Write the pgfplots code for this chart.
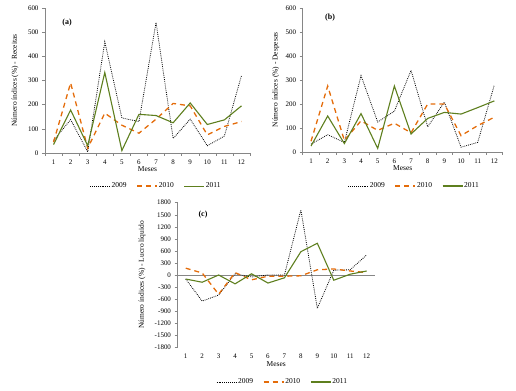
\documentclass[border=0pt]{standalone}
\usepackage{pgfplots}
\pgfplotsset{compat=1.18}
\usepackage{fontspec}
\setmainfont{Liberation Serif}
\definecolor{axgray}{RGB}{134,134,134}
\definecolor{orA}{RGB}{228,108,10}
\definecolor{grA}{RGB}{94,127,30}
\pgfplotsset{
  base/.style={
    scale only axis,
    axis lines=left,
    axis line style={-,axgray,line width=0.6pt},
    /pgf/number format/assume math mode=true,
    /pgf/number format/1000 sep={},
    tick label style={font=\fontsize{7}{8}\selectfont},
    label style={font=\fontsize{7.5}{9}\selectfont},
    tick align=outside,
    major tick length=3bp,
    minor tick length=3bp,
    every tick/.style={axgray,line width=0.5pt},
    xmin=0.5,xmax=12.5,
    xtick={1,...,12},
    minor xtick={0.5,1.5,...,12.5},
    major x tick style={draw=none},
    clip=false,
    xlabel={Meses},
    legend columns=3,
    legend style={draw=none,fill=none,font=\fontsize{7.5}{9}\selectfont,
      inner sep=0pt,nodes={inner sep=1pt},
      /tikz/every odd column/.append style={column sep=0bp},
      /tikz/every even column/.append style={column sep=9bp}},
    legend cell align=left,
    legend image code/.code={\draw[#1] (0bp,0bp) -- (20bp,0bp);},
  },
  s09/.style={black,line width=0.8pt,dash pattern=on 0.8pt off 1.1pt},
  s10/.style={orA,line width=1.3pt,dash pattern=on 5pt off 4pt},
  s11/.style={grA,line width=1.1pt},
}
\begin{document}
\begin{tikzpicture}
\path[use as bounding box] (0bp,0bp) rectangle (516bp,391bp);
% (a)
\begin{axis}[base,at={(45bp,238bp)},anchor=south west,width=205bp,height=145bp,
  ymin=0,ymax=600,ytick={0,100,...,600},
  ylabel={Número índices (\%) - Receitas},
  ylabel style={at={(axis description cs:-0.146,0.5)},anchor=center},
  xlabel style={at={(axis description cs:0.5,-0.11)},anchor=center},
  legend style={at={(axis description cs:0.54,-0.228)},anchor=center}]
\addplot[s09] coordinates {(1,52)(2,138)(3,5)(4,460)(5,145)(6,130)(7,540)(8,60)(9,140)(10,30)(11,70)(12,320)};
\addplot[s10] coordinates {(1,45)(2,290)(3,20)(4,165)(5,115)(6,82)(7,140)(8,205)(9,195)(10,75)(11,110)(12,130)};
\addplot[s11] coordinates {(1,35)(2,178)(3,30)(4,333)(5,10)(6,160)(7,155)(8,125)(9,207)(10,118)(11,137)(12,195)};
\legend{2009,2010,2011}
\node[font=\bfseries\fontsize{8}{9}\selectfont] at (axis cs:1.79,538) {(a)};
\end{axis}
% (b)
\begin{axis}[base,at={(302.7bp,239bp)},anchor=south west,width=200bp,height=144bp,
  ymin=0,ymax=600,ytick={0,100,...,600},
  ylabel={Número índices (\%) - Despesas},
  ylabel style={at={(axis description cs:-0.134,0.5)},anchor=center},
  xlabel style={at={(axis description cs:0.5,-0.11)},anchor=center},
  legend style={at={(axis description cs:0.556,-0.236)},anchor=center}]
\addplot[s09] coordinates {(1,33)(2,72)(3,40)(4,318)(5,125)(6,170)(7,340)(8,105)(9,208)(10,20)(11,40)(12,280)};
\addplot[s10] coordinates {(1,45)(2,275)(3,48)(4,130)(5,90)(6,120)(7,80)(8,200)(9,200)(10,68)(11,110)(12,145)};
\addplot[s11] coordinates {(1,25)(2,150)(3,35)(4,160)(5,15)(6,275)(7,75)(8,140)(9,165)(10,158)(11,185)(12,213)};
\legend{2009,2010,2011}
\node[font=\bfseries\fontsize{8}{9}\selectfont] at (axis cs:2.14,558) {(b)};
\end{axis}
% (c)
\begin{axis}[base,at={(177.5bp,43.7bp)},anchor=south west,width=197.4bp,height=144.6bp,
  ymin=-1800,ymax=1800,ytick={-1800,-1500,...,1800},
  x axis line style={draw=none},
  minor x tick style={draw=none},
  extra y ticks={0},extra y tick labels={},
  extra y tick style={grid=major,major grid style={axgray,line width=0.6pt}},
  ylabel={Número índices (\%) - Lucro líquido},
  ylabel style={at={(axis description cs:-0.18,0.5)},anchor=center},
  xlabel style={at={(axis description cs:0.5,-0.115)},anchor=center},
  legend style={at={(axis description cs:0.53,-0.24)},anchor=center}]
\addplot[s09] coordinates {(1,-100)(2,-650)(3,-500)(4,30)(5,-50)(6,0)(7,0)(8,1620)(9,-830)(10,120)(11,130)(12,500)};
\addplot[s10] coordinates {(1,170)(2,50)(3,-480)(4,60)(5,-120)(6,-30)(7,-30)(8,-20)(9,130)(10,150)(11,100)(12,60)};
\addplot[s11] coordinates {(1,-100)(2,-180)(3,0)(4,-220)(5,30)(6,-200)(7,-70)(8,580)(9,790)(10,-130)(11,20)(12,100)};
\legend{2009,2010,2011}
\node[font=\bfseries\fontsize{8}{9}\selectfont] at (axis cs:2.05,1494) {(c)};
\end{axis}
\end{tikzpicture}
\end{document}
